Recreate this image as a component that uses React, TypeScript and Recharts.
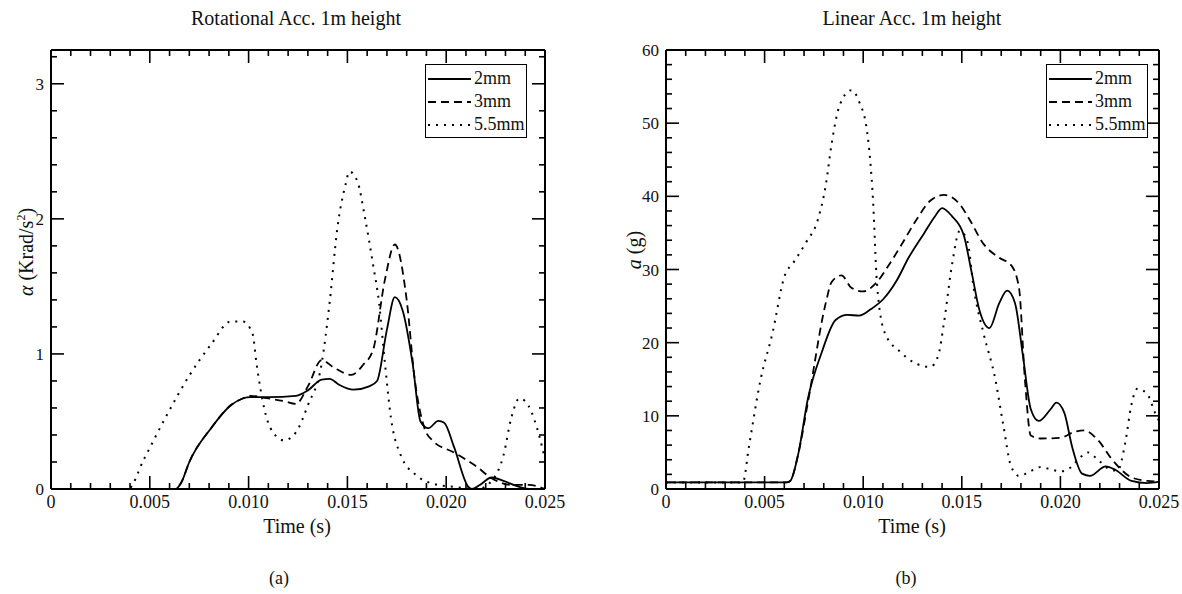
import React from "react";
import { LineChart, Line, XAxis, YAxis, Legend } from "recharts";

const FONT = '"Liberation Serif", "Times New Roman", serif';

// (a) rotational acceleration, Krad/s^2
const rot2mmTime = [0, 0.0063, 0.0066, 0.007, 0.0081, 0.0091, 0.0097, 0.0101, 0.011, 0.0124, 0.013, 0.0137, 0.0141, 0.0146, 0.0153, 0.0161, 0.0165, 0.017, 0.0174, 0.0178, 0.0183, 0.0187, 0.0191, 0.0196, 0.0199, 0.0204, 0.0211, 0.0213, 0.0217, 0.0223, 0.0229, 0.0237, 0.0242, 0.025];
const rot2mmValue = [0, 0, 0.05, 0.2, 0.45, 0.62, 0.67, 0.68, 0.68, 0.69, 0.73, 0.81, 0.815, 0.77, 0.735, 0.76, 0.8, 1.18, 1.42, 1.32, 0.93, 0.5, 0.45, 0.505, 0.49, 0.31, 0.02, 0, 0.03, 0.085, 0.06, 0.015, 0, 0];

const rot3mmTime = [0, 0.0063, 0.0066, 0.007, 0.0081, 0.0091, 0.0097, 0.0101, 0.0108, 0.0118, 0.0124, 0.013, 0.0137, 0.0143, 0.0152, 0.0158, 0.0163, 0.0169, 0.0174, 0.018, 0.0184, 0.0189, 0.0193, 0.0204, 0.0215, 0.0223, 0.0233, 0.0242, 0.025];
const rot3mmValue = [0, 0, 0.05, 0.2, 0.45, 0.62, 0.67, 0.69, 0.675, 0.65, 0.63, 0.76, 0.955, 0.9, 0.845, 0.92, 1.03, 1.55, 1.81, 1.4, 0.82, 0.45, 0.36, 0.27, 0.17, 0.08, 0.03, 0.03, 0];

const rot55mmTime = [0, 0.0039, 0.0047, 0.0058, 0.007, 0.0081, 0.0091, 0.0097, 0.0102, 0.0104, 0.0108, 0.0114, 0.0118, 0.0124, 0.013, 0.0137, 0.0141, 0.0145, 0.0149, 0.0151, 0.0155, 0.0159, 0.0163, 0.0166, 0.0169, 0.0172, 0.0177, 0.0185, 0.0193, 0.0204, 0.0216, 0.0223, 0.0229, 0.0233, 0.0237, 0.024, 0.0246, 0.025];
const rot55mmValue = [0, 0, 0.22, 0.53, 0.84, 1.07, 1.24, 1.24, 1.15, 0.93, 0.59, 0.39, 0.36, 0.42, 0.62, 0.93, 1.38, 1.94, 2.25, 2.35, 2.28, 2.0, 1.66, 1.38, 0.93, 0.53, 0.25, 0.1, 0.04, 0.015, 0, 0.06, 0.25, 0.53, 0.67, 0.65, 0.45, 0.22];

// (b) linear acceleration, g
const lin2mmTime = [0, 0.0061, 0.0063, 0.0067, 0.0072, 0.0079, 0.0086, 0.0092, 0.0098, 0.0104, 0.011, 0.0117, 0.0123, 0.0131, 0.0136, 0.014, 0.0145, 0.0151, 0.0155, 0.0159, 0.0164, 0.0169, 0.0173, 0.0177, 0.0181, 0.0185, 0.0189, 0.0195, 0.0198, 0.0202, 0.0206, 0.0211, 0.0215, 0.0223, 0.0228, 0.0236, 0.0244, 0.025];
const lin2mmValue = [0.9, 0.9, 1.1, 4.7, 12.4, 18.7, 23.1, 23.8, 23.7, 24.6, 25.9, 28.5, 31.6, 35, 37.1, 38.4, 37.3, 34.7, 29.6, 24.4, 22, 25.4, 27.1, 25.4, 18.2, 10.9, 9.3, 10.9, 11.8, 10.4, 5.7, 2.1, 1.8, 3.1, 2.6, 1.1, 0.8, 1.0];

const lin3mmTime = [0, 0.0061, 0.0063, 0.0067, 0.0072, 0.0081, 0.0084, 0.0089, 0.0094, 0.01, 0.0107, 0.0113, 0.0119, 0.0127, 0.0134, 0.0141, 0.0149, 0.0154, 0.0161, 0.0169, 0.0175, 0.0179, 0.0182, 0.0185, 0.019, 0.02, 0.0207, 0.0212, 0.0219, 0.0226, 0.0236, 0.0244, 0.025];
const lin3mmValue = [0.9, 0.9, 1.1, 4.7, 11.9, 25.4, 28.3, 29.2, 27.5, 27, 28.3, 30.6, 33.2, 36.8, 39.4, 40.2, 38.9, 36.8, 33.5, 31.6, 30.6, 27.5, 15, 7.3, 6.9, 7, 7.8, 8, 6.7, 4.1, 1.6, 1.1, 1.0];

const lin55mmTime = [0, 0.0039, 0.0042, 0.0048, 0.0054, 0.006, 0.0065, 0.0071, 0.0077, 0.0081, 0.0084, 0.0088, 0.0094, 0.0098, 0.0102, 0.0105, 0.0107, 0.0111, 0.0119, 0.0127, 0.0134, 0.0138, 0.0141, 0.0145, 0.0149, 0.0153, 0.0156, 0.0161, 0.0167, 0.0171, 0.0175, 0.0179, 0.0184, 0.019, 0.0195, 0.02, 0.0205, 0.021, 0.0214, 0.0219, 0.0225, 0.0229, 0.0233, 0.0236, 0.0239, 0.0244, 0.0248, 0.025];
const lin55mmValue = [0.9, 0.9, 5.7, 15, 21.3, 29, 31.1, 33.7, 36.8, 41.5, 47.2, 52.4, 54.5, 52.9, 48.8, 39.4, 28, 21.3, 18.7, 17.1, 16.7, 18.2, 22.8, 30.6, 35.3, 33.7, 27.5, 21.3, 15, 8.8, 3.1, 1.8, 2.3, 3.0, 2.7, 2.4, 2.9, 4.3, 5.0, 4.0, 2.7, 2.5, 6.5, 11.5, 13.7, 13.0, 10.4, 9.3];

const seriesNames = ["2mm", "3mm", "5.5mm"];

const xTicks = [0, 0.001, 0.002, 0.003, 0.004, 0.005, 0.006, 0.007, 0.008, 0.009, 0.01, 0.011, 0.012, 0.013, 0.014, 0.015, 0.016, 0.017, 0.018, 0.019, 0.02, 0.021, 0.022, 0.023, 0.024, 0.025];
const xTickLabels = ["0", "0.005", "0.010", "0.015", "0.020", "0.025"];
const rotTicks = [0, 0.2, 0.4, 0.6, 0.8, 1, 1.2, 1.4, 1.6, 1.8, 2, 2.2, 2.4, 2.6, 2.8, 3, 3.2];
const rotTickLabels = ["0", "1", "2", "3"];
const linTicks = [0, 2, 4, 6, 8, 10, 12, 14, 16, 18, 20, 22, 24, 26, 28, 30, 32, 34, 36, 38, 40, 42, 44, 46, 48, 50, 52, 54, 56, 58, 60];
const linTickLabels = ["0", "10", "20", "30", "40", "50", "60"];

const dashFor: Record<string, string | undefined> = { "2mm": undefined, "3mm": "8 5", "5.5mm": "2 6" };

const zip = (t: number[], v: number[]) => t.map((x, i) => ({ t: x, v: v[i] }));

type Side = "bottom" | "top" | "left" | "right";

function makeTick(side: Side, step: number, labels: string[] | null, fontSize: number) {
  return (p: any) => {
    const value = p.payload.value;
    const k = value / step;
    const major = Math.abs(k - Math.round(k)) < 1e-6;
    const len = major ? 13 : 6;
    const { x, y } = p;
    let line;
    if (side === "bottom") line = <line x1={x} x2={x} y1={y} y2={y - len} />;
    else if (side === "top") line = <line x1={x} x2={x} y1={y} y2={y + len} />;
    else if (side === "left") line = <line x1={x} x2={x + len} y1={y} y2={y} />;
    else line = <line x1={x} x2={x - len} y1={y} y2={y} />;
    const label = labels && major ? labels[Math.round(k)] : null;
    const ts = { fontFamily: FONT, fontSize };
    return (
      <g stroke="#000" strokeWidth={1.6}>
        {line}
        {label != null && side === "bottom" && (
          <text x={x} y={y + 19} textAnchor="middle" stroke="none" fill="#111" style={ts}>
            {label}
          </text>
        )}
        {label != null && side === "left" && (
          <text x={x - 7} y={y + 6} textAnchor="end" stroke="none" fill="#111" style={ts}>
            {label}
          </text>
        )}
      </g>
    );
  };
}

function LegendBox(props: any) {
  const items = props.payload ?? [];
  return (
    <div
      style={{
        border: "1.5px solid #000",
        background: "#fff",
        width: 102,
        height: 74,
        boxSizing: "border-box",
        paddingTop: 2,
        fontFamily: FONT,
        fontSize: 18,
        color: "#111",
      }}
    >
      {items.map((it: any) => (
        <div key={it.value} style={{ display: "flex", alignItems: "center", height: 23, whiteSpace: "nowrap" }}>
          <svg width={47} height={10} style={{ flex: "none" }}>
            <line x1={2} x2={45} y1={5} y2={5} stroke="#000" strokeWidth={1.8} strokeDasharray={dashFor[it.value]} />
          </svg>
          <span style={{ marginLeft: 1, fontFamily: FONT }}>{it.value}</span>
        </div>
      ))}
    </div>
  );
}

type PanelProps = {
  left: number;
  width: number;
  yAxisWidth: number;
  rightWidth: number;
  yDomain: [number, number];
  yTicks: number[];
  yStep: number;
  yLabels: string[];
  series: { t: number; v: number }[][];
  legendLeft: number;
};

function Panel({ left, width, yAxisWidth, rightWidth, yDomain, yTicks, yStep, yLabels, series, legendLeft }: PanelProps) {
  const axisLine = { stroke: "#000", strokeWidth: 2 };
  return (
    <div style={{ position: "absolute", left, top: 0 }}>
      <LineChart width={width} height={594} margin={{ top: 40, right: 0, bottom: 0, left: 0 }}>
        <XAxis
          xAxisId="bottom"
          dataKey="t"
          type="number"
          domain={[0, 0.025]}
          ticks={xTicks}
          interval={0}
          height={105}
          tickSize={0}
          tickMargin={0}
          tickLine={false}
          axisLine={axisLine}
          tick={makeTick("bottom", 0.005, xTickLabels, 18)}
          allowDataOverflow
        />
        <XAxis
          xAxisId="top"
          orientation="top"
          dataKey="t"
          type="number"
          domain={[0, 0.025]}
          ticks={xTicks}
          interval={0}
          height={10}
          tickSize={0}
          tickMargin={0}
          tickLine={false}
          axisLine={axisLine}
          tick={makeTick("top", 0.005, null, 18)}
          allowDataOverflow
        />
        <YAxis
          yAxisId="left"
          type="number"
          domain={yDomain}
          ticks={yTicks}
          interval={0}
          width={yAxisWidth}
          tickSize={0}
          tickMargin={0}
          tickLine={false}
          axisLine={axisLine}
          tick={makeTick("left", yStep, yLabels, 17)}
          allowDataOverflow
        />
        <YAxis
          yAxisId="right"
          orientation="right"
          type="number"
          domain={yDomain}
          ticks={yTicks}
          interval={0}
          width={rightWidth}
          tickSize={0}
          tickMargin={0}
          tickLine={false}
          axisLine={axisLine}
          tick={makeTick("right", yStep, null, 17)}
          allowDataOverflow
        />
        <Legend
          layout="vertical"
          align="center"
          verticalAlign="middle"
          content={LegendBox}
          wrapperStyle={{ left: legendLeft, top: 64, width: 102, height: 74 }}
        />
        {series.map((d, i) => (
          <Line
            key={seriesNames[i]}
            name={seriesNames[i]}
            data={d}
            dataKey="v"
            xAxisId="bottom"
            yAxisId="left"
            type="monotone"
            dot={false}
            activeDot={false}
            stroke="#000"
            strokeWidth={i === 2 ? 2 : 1.8}
            strokeDasharray={dashFor[seriesNames[i]]}
            isAnimationActive={false}
          />
        ))}
      </LineChart>
    </div>
  );
}

const textStyle: React.CSSProperties = {
  position: "absolute",
  transform: "translate(-50%, -50%)",
  whiteSpace: "nowrap",
  fontFamily: FONT,
  color: "#111",
};

export default function App() {
  const rotSeries = [zip(rot2mmTime, rot2mmValue), zip(rot3mmTime, rot3mmValue), zip(rot55mmTime, rot55mmValue)];
  const linSeries = [zip(lin2mmTime, lin2mmValue), zip(lin3mmTime, lin3mmValue), zip(lin55mmTime, lin55mmValue)];

  return (
    <div style={{ position: "absolute", left: 0, top: 0, width: 1182, height: 594, background: "#fff", overflow: "hidden", fontFamily: FONT }}>
      <Panel
        left={0}
        width={590}
        yAxisWidth={51}
        rightWidth={45}
        yDomain={[0, 3.25]}
        yTicks={rotTicks}
        yStep={1}
        yLabels={rotTickLabels}
        series={rotSeries}
        legendLeft={425}
      />
      <Panel
        left={590}
        width={592}
        yAxisWidth={76}
        rightWidth={23}
        yDomain={[0, 60]}
        yTicks={linTicks}
        yStep={10}
        yLabels={linTickLabels}
        series={linSeries}
        legendLeft={456}
      />

      <div style={{ ...textStyle, left: 296, top: 18, fontSize: 20 }}>Rotational Acc. 1m height</div>
      <div style={{ ...textStyle, left: 912, top: 18, fontSize: 20 }}>Linear Acc. 1m height</div>

      <div style={{ ...textStyle, left: 297, top: 526, fontSize: 20 }}>Time (s)</div>
      <div style={{ ...textStyle, left: 912, top: 526, fontSize: 20 }}>Time (s)</div>

      <div style={{ ...textStyle, left: 26, top: 252, fontSize: 20, transform: "translate(-50%, -50%) rotate(-90deg)" }}>
        <i>α</i> (Krad/s<sup style={{ fontSize: 12 }}>2</sup>)
      </div>
      <div style={{ ...textStyle, left: 634, top: 250, fontSize: 20, transform: "translate(-50%, -50%) rotate(-90deg)" }}>
        <i>a</i> (g)
      </div>

      <div style={{ ...textStyle, left: 279, top: 578, fontSize: 18 }}>(a)</div>
      <div style={{ ...textStyle, left: 906, top: 578, fontSize: 18 }}>(b)</div>
    </div>
  );
}
